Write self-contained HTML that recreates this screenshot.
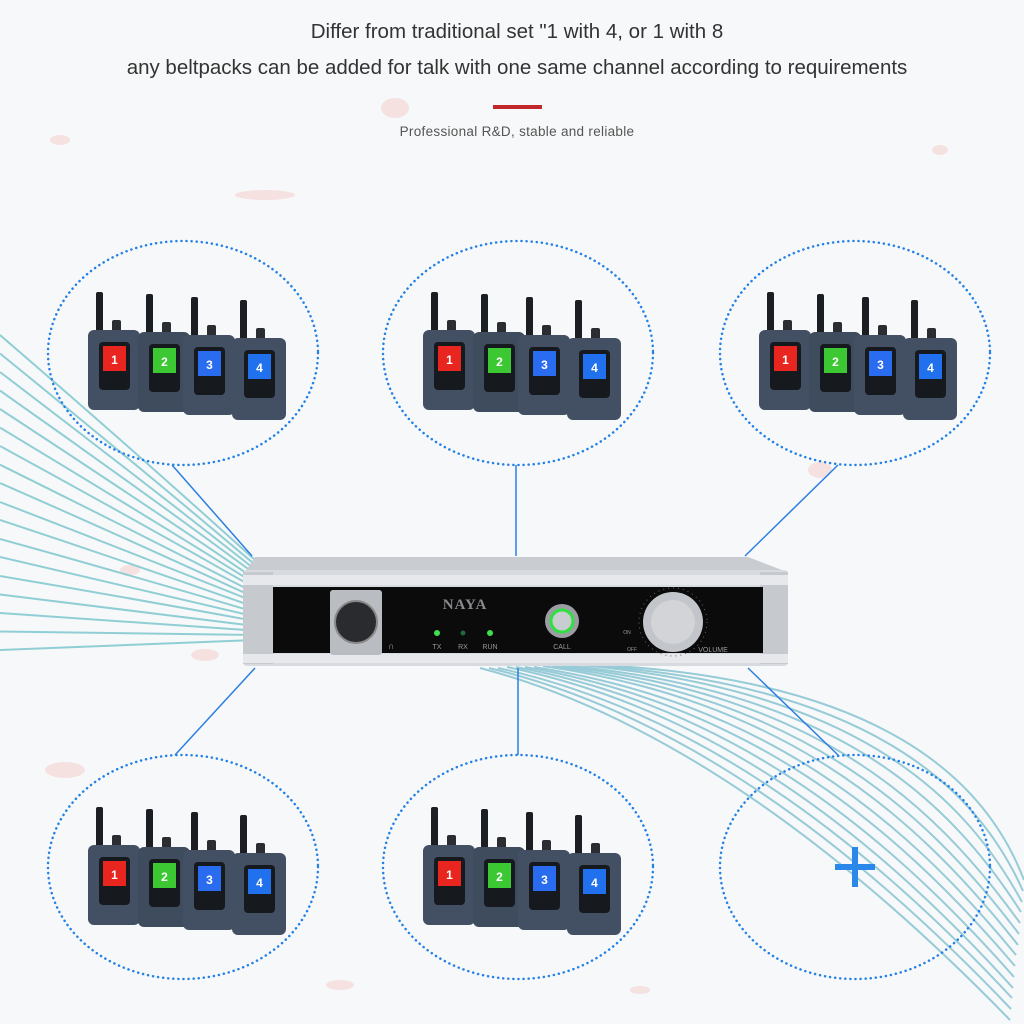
<!DOCTYPE html>
<html><head><meta charset="utf-8"><style>
html,body{margin:0;padding:0;background:#f7f8f9;}
svg{display:block}
</style></head><body>
<svg width="1024" height="1024" viewBox="0 0 1024 1024" xmlns="http://www.w3.org/2000/svg" font-family="Liberation Sans, sans-serif">
<defs>
<g id="bp">
  <g>
    <rect x="8" y="2" width="7" height="44" rx="2" fill="#1b1e22"/>
    <rect x="24" y="30" width="9" height="12" rx="2" fill="#2a2d31"/>
    <rect x="0" y="40" width="52" height="80" rx="6" fill="#435064"/>
    <rect x="11" y="52" width="31" height="48" rx="4" fill="#16191d"/>
    <rect x="15" y="56" width="23" height="25" fill="#e8261f"/>
    <text x="26.5" y="74" font-size="12" font-weight="bold" fill="#fff" text-anchor="middle">1</text>
  </g>
  <g transform="translate(50,2)">
    <rect x="8" y="2" width="7" height="44" rx="2" fill="#1b1e22"/>
    <rect x="24" y="30" width="9" height="12" rx="2" fill="#2a2d31"/>
    <rect x="0" y="40" width="52" height="80" rx="6" fill="#3f4c5e"/>
    <rect x="11" y="52" width="31" height="48" rx="4" fill="#16191d"/>
    <rect x="15" y="56" width="23" height="25" fill="#3cc832"/>
    <text x="26.5" y="74" font-size="12" font-weight="bold" fill="#fff" text-anchor="middle">2</text>
  </g>
  <g transform="translate(95,5)">
    <rect x="8" y="2" width="7" height="44" rx="2" fill="#1b1e22"/>
    <rect x="24" y="30" width="9" height="12" rx="2" fill="#2a2d31"/>
    <rect x="0" y="40" width="52" height="80" rx="6" fill="#435064"/>
    <rect x="11" y="52" width="31" height="48" rx="4" fill="#16191d"/>
    <rect x="15" y="56" width="23" height="25" fill="#2a6cf0"/>
    <text x="26.5" y="74" font-size="12" font-weight="bold" fill="#fff" text-anchor="middle">3</text>
  </g>
  <g transform="translate(144,8)">
    <rect x="8" y="2" width="7" height="44" rx="2" fill="#1b1e22"/>
    <rect x="24" y="30" width="9" height="12" rx="2" fill="#2a2d31"/>
    <rect x="0" y="40" width="54" height="82" rx="6" fill="#435064"/>
    <rect x="12" y="52" width="31" height="48" rx="4" fill="#16191d"/>
    <rect x="16" y="56" width="23" height="25" fill="#2170ee"/>
    <text x="27.5" y="74" font-size="12" font-weight="bold" fill="#fff" text-anchor="middle">4</text>
  </g>
</g>
</defs>

<!-- faint splatters -->
<g fill="#f6c9c9" opacity="0.5">
<ellipse cx="395" cy="108" rx="14" ry="10"/><ellipse cx="265" cy="195" rx="30" ry="5"/>
<ellipse cx="65" cy="770" rx="20" ry="8"/><ellipse cx="205" cy="655" rx="14" ry="6"/>
<ellipse cx="820" cy="470" rx="12" ry="8"/><ellipse cx="130" cy="570" rx="10" ry="5"/>
<ellipse cx="340" cy="985" rx="14" ry="5"/><ellipse cx="640" cy="990" rx="10" ry="4"/>
<ellipse cx="940" cy="150" rx="8" ry="5"/><ellipse cx="60" cy="140" rx="10" ry="5"/>
</g>

<!-- left wave band -->
<g fill="none" stroke="#7fc7cf" stroke-width="2" opacity="0.85">
<path d="M0,335 Q130,447 255,560"/><path d="M0,353.5 Q130,459 255,564.7"/>
<path d="M0,372 Q130,471 255,569.4"/><path d="M0,390.6 Q130,482 255,574"/>
<path d="M0,409 Q130,494 255,579"/><path d="M0,427.6 Q130,506 255,583.5"/>
<path d="M0,446 Q130,517 255,588"/><path d="M0,464.7 Q130,529 255,593"/>
<path d="M0,483 Q130,540 255,597.6"/><path d="M0,502 Q130,552 255,602"/>
<path d="M0,520 Q130,563 255,607"/><path d="M0,539 Q130,575 255,612"/>
<path d="M0,557 Q130,587 255,616.5"/><path d="M0,576 Q130,598 255,621"/>
<path d="M0,594.5 Q130,610 255,626"/><path d="M0,613 Q130,622 255,630.6"/>
<path d="M0,631.5 Q130,633 255,635"/><path d="M0,650 Q130,645 255,640"/>
</g>
<!-- right wave band -->
<g fill="none" stroke="#86c4d2" stroke-width="2" opacity="0.85">
<path d="M480,668 C660,715 840,845 1010,1020"/>
<path d="M489,668 C677,713 850,840 1011,1009"/>
<path d="M498,668 C694,711 860,835 1012,998"/>
<path d="M507,667 C711,709 870,830 1013,988"/>
<path d="M516,667 C728,707 880,825 1014,977"/>
<path d="M525,667 C745,705 890,819 1015,966"/>
<path d="M534,667 C762,703 900,814 1016,955"/>
<path d="M543,666 C779,700 910,808 1018,945"/>
<path d="M552,666 C796,698 920,803 1019,934"/>
<path d="M561,666 C813,695 930,798 1020,923"/>
<path d="M570,666 C830,692 945,793 1021,912"/>
<path d="M579,665 C847,689 960,788 1022,902"/>
<path d="M588,665 C864,685 975,783 1023,891"/>
<path d="M600,665 C880,680 985,778 1024,880"/>
</g>

<!-- header -->
<text x="517" y="38" font-size="20.5" fill="#333" text-anchor="middle">Differ from traditional set "1 with 4, or 1 with 8</text>
<text x="517" y="74" font-size="20.5" fill="#333" text-anchor="middle">any beltpacks can be added for talk with one same channel according to requirements</text>
<rect x="493" y="105" width="49" height="4" fill="#c0282b"/>
<text x="517" y="136" font-size="13.5" fill="#555" text-anchor="middle" letter-spacing="0.3">Professional R&amp;D, stable and reliable</text>

<!-- connectors -->
<g stroke="#2c7fe0" stroke-width="1.5">
<line x1="172" y1="465" x2="252" y2="556"/>
<line x1="516" y1="465" x2="516" y2="556"/>
<line x1="838" y1="465" x2="745" y2="556"/>
<line x1="175" y1="755" x2="255" y2="668"/>
<line x1="518" y1="755" x2="518" y2="668"/>
<line x1="838" y1="755" x2="748" y2="668"/>
</g>

<!-- ellipses -->
<g fill="none" stroke="#2280e6" stroke-width="2.5" stroke-dasharray="0.1 5" stroke-linecap="round">
<ellipse cx="183" cy="353" rx="135" ry="112"/>
<ellipse cx="518" cy="353" rx="135" ry="112"/>
<ellipse cx="855" cy="353" rx="135" ry="112"/>
<ellipse cx="183" cy="867" rx="135" ry="112"/>
<ellipse cx="518" cy="867" rx="135" ry="112"/>
<ellipse cx="855" cy="867" rx="135" ry="112"/>
</g>

<use href="#bp" x="88" y="290"/>
<use href="#bp" x="423" y="290"/>
<use href="#bp" x="759" y="290"/>
<use href="#bp" x="88" y="805"/>
<use href="#bp" x="423" y="805"/>

<!-- plus -->
<rect x="835" y="864" width="40" height="6" fill="#2a88ea"/>
<rect x="852" y="847" width="6" height="40" fill="#2a88ea"/>

<!-- device -->
<polygon points="255,557 748,557 787,572 245,572" fill="#c9ccd1"/>
<rect x="243" y="570" width="545" height="96" rx="4" fill="#d7dadf"/>
<rect x="243" y="572" width="30" height="92" fill="#c6c9ce"/>
<rect x="760" y="572" width="28" height="92" fill="#c6c9ce"/>
<rect x="243" y="575" width="545" height="10" fill="#e6e8eb"/>
<rect x="243" y="654" width="545" height="9" fill="#e6e8eb"/>
<rect x="273" y="587" width="490" height="66" fill="#0b0b0c"/>
<rect x="330" y="590" width="52" height="65" rx="3" fill="#b9bcc1"/>
<circle cx="356" cy="622" r="21" fill="#2a2b2e" stroke="#888" stroke-width="2"/>
<text x="388" y="649" font-size="9" fill="#aaa">∩</text>
<text x="465" y="609" font-size="15" font-weight="bold" font-family="Liberation Serif, serif" fill="#8a8a8f" text-anchor="middle" letter-spacing="1">NAYA</text>
<circle cx="437" cy="633" r="3" fill="#3be24a"/>
<circle cx="463" cy="633" r="2.5" fill="#1f6a3a"/>
<circle cx="490" cy="633" r="3" fill="#3be24a"/>
<g font-size="7" fill="#999" text-anchor="middle">
<text x="437" y="649">TX</text><text x="463" y="649">RX</text><text x="490" y="649">RUN</text>
<text x="562" y="649">CALL</text><text x="713" y="652">VOLUME</text>
<text x="632" y="651" font-size="5">OFF</text><text x="627" y="634" font-size="5">ON</text>
</g>
<circle cx="562" cy="621" r="17" fill="#9a9da2"/>
<circle cx="562" cy="621" r="11" fill="#c9ccd0" stroke="#30e040" stroke-width="3"/>
<circle cx="673" cy="622" r="34" fill="none" stroke="#666" stroke-width="1" stroke-dasharray="1 4"/>
<circle cx="673" cy="622" r="30" fill="#c2c5c9"/>
<circle cx="673" cy="622" r="22" fill="#d8dadd" opacity="0.7"/>
</svg>
</body></html>
